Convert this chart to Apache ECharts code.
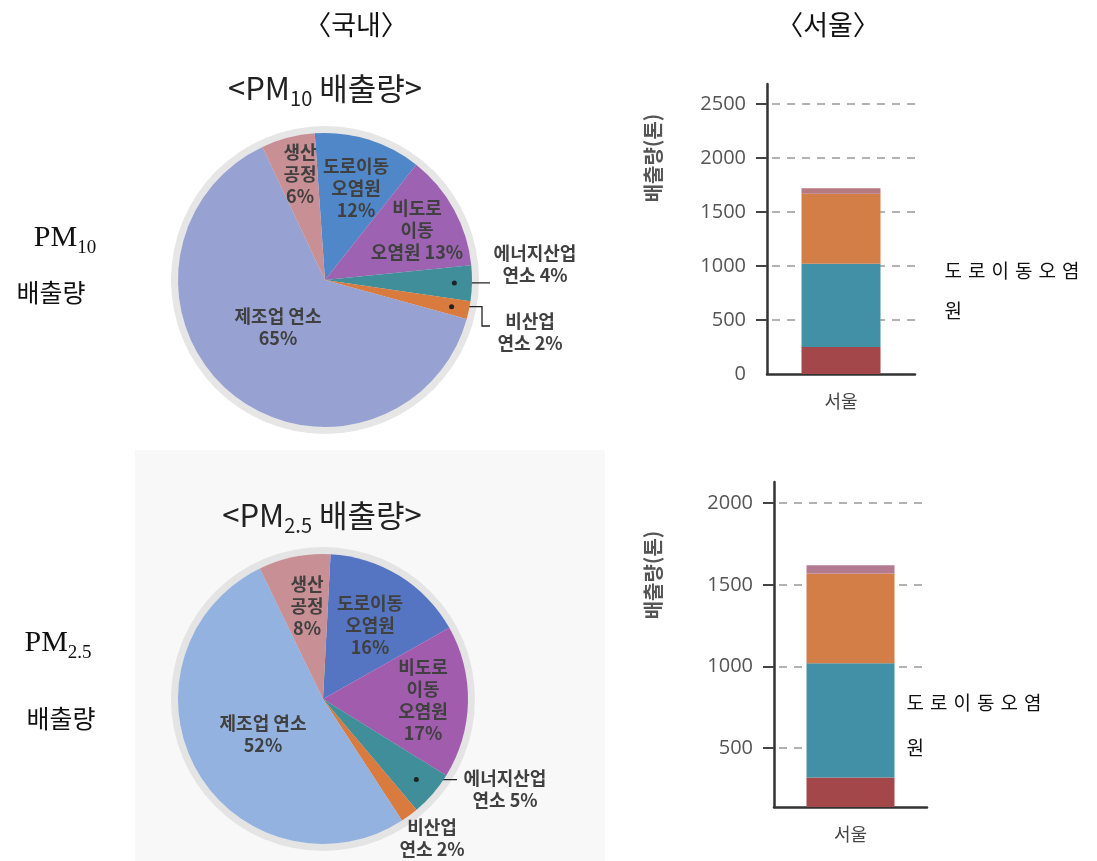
<!DOCTYPE html>
<html lang="ko">
<head>
<meta charset="UTF-8">
<title>PM 배출량 - 국내 / 서울</title>
<script src="https://cdn.jsdelivr.net/npm/echarts@6/dist/echarts.min.js"></script>
<style>
  html, body { margin: 0; padding: 0; background: #fff; }
  #main { width: 1097px; height: 861px; }
</style>
</head>
<body>
<div id="main"></div>
<script>
  // 국내 배출원별 비중 (%)
  var sources = ['도로이동 오염원', '비도로 이동 오염원', '에너지산업 연소', '비산업 연소', '제조업 연소', '생산 공정'];
  var pm10Share = [12, 13, 4, 2, 65, 6];
  var pm25Share = [16, 17, 5, 2, 52, 8];

  // 파이 라벨 줄바꿈 (뒤에 값% 가 붙음)
  var pm10LabelText = ['도로이동\n오염원\n', '비도로\n이동\n오염원 ', '에너지산업\n연소 ', '비산업\n연소 ', '제조업 연소\n', '생산\n공정\n'];
  var pm25LabelText = ['도로이동\n오염원\n', '비도로\n이동\n오염원\n', '에너지산업\n연소 ', '비산업\n연소 ', '제조업 연소\n', '생산\n공정\n'];

  // 서울 배출량 (톤), 아래부터 쌓음
  var seoulCategory = ['서울'];
  var segNames = ['구간1', '도로이동오염원', '구간3', '구간4'];
  var pm10Seoul = [250, 770, 650, 50];
  var pm25Seoul = [320, 700, 550, 50];
  var pm10Ticks = [0, 500, 1000, 1500, 2000, 2500];
  var pm25Ticks = [500, 1000, 1500, 2000];

  // ---- 스타일 / 배치 ----
  var pm10Colors = ['#4f87c8', '#9d63b2', '#3f8e99', '#d97a3f', '#97a2d2', '#c88f95'];
  var pm25Colors = ['#5575c2', '#a15cae', '#3f8e99', '#d97a3f', '#93b2e0', '#c88f95'];
  var segColors10 = ['#a4474a', '#4290a6', '#d27e46', '#b5797f'];
  var segColors25 = ['#a4474a', '#4290a6', '#d27e46', '#b27b92'];

  var pieTop = { cx: 325, cy: 280, r: 147, start: 94 };
  var pieBot = { cx: 323, cy: 699, r: 145, start: 87 };

  var pm10LabelPos = [[356, 188], [417, 230], [535, 264], [530, 332], [278, 327], [300, 174]];
  var pm25LabelPos = [[370, 625], [423, 700], [505, 789], [432, 838], [263, 734], [307, 606]];

  var korFont = '"Noto Sans CJK KR", "Noto Sans", sans-serif';

  // 조각 가운데 각도에 있는 점 (지시선 시작점)
  function slicePoint(pie, values, idx, k) {
    var total = values.reduce(function (a, b) { return a + b; }, 0);
    var before = 0;
    for (var i = 0; i < idx; i++) before += values[i];
    var deg = pie.start - (before + values[idx] / 2) / total * 360;
    var rad = deg * Math.PI / 180;
    return [pie.cx + pie.r * k * Math.cos(rad), pie.cy - pie.r * k * Math.sin(rad)];
  }

  var d10e = slicePoint(pieTop, pm10Share, 2, 0.88);
  var d10n = slicePoint(pieTop, pm10Share, 3, 0.88);
  var d25e = slicePoint(pieBot, pm25Share, 2, 0.85);

  var pm10Lines = {
    2: [d10e, [490, d10e[1]]],
    3: [d10n, [482, d10n[1]], [482, 326], [490, 326]]
  };
  var pm25Lines = {
    2: [d25e, [457, d25e[1]]],
    3: null
  };

  function pieSeries(pie, values, colors, labelText, labelPos, lines) {
    return {
      type: 'pie',
      center: [pie.cx, pie.cy],
      radius: pie.r,
      startAngle: pie.start,
      clockwise: true,
      avoidLabelOverlap: false,
      silent: true,
      label: {
        position: 'inside',
        color: '#404040',
        fontSize: 18,
        fontWeight: 'bold',
        lineHeight: 22,
        fontFamily: korFont,
        formatter: function (p) { return labelText[p.dataIndex] + p.value + '%'; }
      },
      labelLine: { show: false },
      labelLayout: function (p) {
        var pos = labelPos[p.dataIndex];
        var out = { x: pos[0], y: pos[1], align: 'center', verticalAlign: 'middle' };
        if (lines[p.dataIndex]) out.labelLinePoints = lines[p.dataIndex];
        return out;
      },
      data: sources.map(function (n, i) {
        var item = { name: n, value: values[i], itemStyle: { color: colors[i] } };
        if (i in lines) {
          item.label = { position: 'outside' };
          item.labelLine = { show: !!lines[i], length: 10, length2: 10, lineStyle: { color: '#222', width: 1.3 } };
        }
        return item;
      })
    };
  }

  function barSeries(values, colors, gi, stack, barW, noteLabel) {
    return values.map(function (v, i) {
      var s = {
        type: 'bar',
        name: segNames[i],
        xAxisIndex: gi,
        yAxisIndex: gi,
        stack: stack,
        barWidth: barW,
        silent: true,
        itemStyle: { color: colors[i] },
        data: [v]
      };
      if (i === 1) s.label = noteLabel;
      return s;
    });
  }

  // 자간을 띄운 주석 글자 (글자마다 rich 토큰)
  var noteText = '도로이동오염\n원';
  var noteRich = noteText.split('\n').map(function (line) {
    return line.split('').map(function (c) { return '{c|' + c + '}'; }).join('');
  }).join('\n');

  function yAxisCfg(gi, min, max, ticks) {
    return {
      type: 'value',
      gridIndex: gi,
      min: min,
      max: max,
      minInterval: 500,
      maxInterval: 500,
      axisLine: { show: true, lineStyle: { color: '#333', width: 2.5 } },
      axisTick: {
        show: true, length: 11,
        lineStyle: { color: '#444', width: 2 },
        customValues: ticks.filter(function (t) { return t > 0; })
      },
      axisLabel: {
        customValues: ticks,
        formatter: function (v) { return String(v); },
        margin: 21, fontSize: 20, color: '#555', fontFamily: '"Open Sans", sans-serif'
      },
      splitLine: {
        show: true,
        lineStyle: { type: [8, 7], dashOffset: 10, color: '#999', width: 1.5 }
      }
    };
  }

  function xAxisCfg(gi) {
    return {
      type: 'category',
      gridIndex: gi,
      data: seoulCategory,
      axisLine: { show: true, lineStyle: { color: '#333', width: 2.5 } },
      axisTick: { show: false },
      axisLabel: { margin: 18, fontSize: 18, color: '#444', fontFamily: korFont }
    };
  }

  function subTitle(x, y, main, sub, tail, size, subSize, family, color) {
    return {
      type: 'text', x: x, y: y, style: {
        text: '{a|' + main + '}{s|' + sub + '}' + (tail ? '{a|' + tail + '}' : ''),
        align: 'center', verticalAlign: 'middle',
        rich: {
          a: { fontSize: size, fontFamily: family, fill: color, lineHeight: size + 9 },
          s: { fontSize: subSize, fontFamily: family, fill: color, lineHeight: size + 9, verticalAlign: 'bottom' }
        }
      }
    };
  }

  var myChart = echarts.init(document.getElementById('main'), null, { renderer: 'canvas' });

  var option = {
    backgroundColor: '#fff',
    animation: false,
    grid: [
      { left: 767, top: 84, width: 148, height: 290 },
      { left: 774, top: 482, width: 153, height: 325 }
    ],
    xAxis: [xAxisCfg(0), xAxisCfg(1)],
    yAxis: [yAxisCfg(0, 0, 2685, pm10Ticks), yAxisCfg(1, 140, 2130, pm25Ticks)],
    graphic: [
      // 아래쪽 파이 영역 배경
      { type: 'rect', shape: { x: 135, y: 450, width: 470, height: 411 }, style: { fill: '#f8f8f8' }, silent: true },
      // 파이 바깥 테두리
      { type: 'circle', shape: { cx: pieTop.cx, cy: pieTop.cy, r: pieTop.r + 7 }, style: { fill: '#e6e6e6' }, silent: true },
      { type: 'circle', shape: { cx: pieBot.cx, cy: pieBot.cy, r: pieBot.r + 7 }, style: { fill: '#e4e4e4' }, silent: true },
      // 지시선 점
      { type: 'circle', z: 100, shape: { cx: d10e[0], cy: d10e[1], r: 2.5 }, style: { fill: '#222' }, silent: true },
      { type: 'circle', z: 100, shape: { cx: d10n[0], cy: d10n[1], r: 2.5 }, style: { fill: '#222' }, silent: true },
      { type: 'circle', z: 100, shape: { cx: d25e[0], cy: d25e[1], r: 2.5 }, style: { fill: '#222' }, silent: true },
      // 상단 제목
      { type: 'text', x: 356, y: 25, style: { text: '〈국내〉', font: '27px ' + korFont, fill: '#111', align: 'center', verticalAlign: 'middle' } },
      { type: 'text', x: 828, y: 25, style: { text: '〈서울〉', font: '27px ' + korFont, fill: '#111', align: 'center', verticalAlign: 'middle' } },
      // 왼쪽 행 제목
      subTitle(65, 238, 'PM', '10', '', 30, 19, '"Liberation Serif", serif', '#111'),
      { type: 'text', x: 51, y: 292, style: { text: '배출량', font: '25px ' + korFont, fill: '#111', align: 'center', verticalAlign: 'middle' } },
      subTitle(58, 643, 'PM', '2.5', '', 30, 19, '"Liberation Serif", serif', '#111'),
      { type: 'text', x: 61, y: 718, style: { text: '배출량', font: '25px ' + korFont, fill: '#111', align: 'center', verticalAlign: 'middle' } },
      // 파이 제목
      subTitle(325, 88, '<PM', '10', ' 배출량>', 31, 20, korFont, '#222'),
      subTitle(322, 515, '<PM', '2.5', ' 배출량>', 31, 20, korFont, '#222'),
      // 막대 y축 이름
      { type: 'text', x: 653, y: 158, rotation: Math.PI / 2, style: { text: '배출량(톤)', font: 'bold 20px ' + korFont, fill: '#555', align: 'center', verticalAlign: 'middle' } },
      { type: 'text', x: 653, y: 575, rotation: Math.PI / 2, style: { text: '배출량(톤)', font: 'bold 20px ' + korFont, fill: '#555', align: 'center', verticalAlign: 'middle' } }
    ],
    series: [
      pieSeries(pieTop, pm10Share, pm10Colors, pm10LabelText, pm10LabelPos, pm10Lines),
      pieSeries(pieBot, pm25Share, pm25Colors, pm25LabelText, pm25LabelPos, pm25Lines)
    ]
      .concat(barSeries(pm10Seoul, segColors10, 0, 'pm10', 79, {
        show: true, position: 'right', distance: 64, offset: [0, -15],
        formatter: noteRich, align: 'left',
        rich: { c: { color: '#111', fontSize: 19, lineHeight: 40, fontFamily: korFont, padding: [0, 6, 0, 0] } }
      }))
      .concat(barSeries(pm25Seoul, segColors25, 1, 'pm25', 88, {
        show: true, position: 'right', distance: 1, offset: [0, 16],
        formatter: noteRich, align: 'left',
        rich: { c: { color: '#111', fontSize: 19, lineHeight: 45, fontFamily: korFont, padding: [0, 6, 0, 0] } },
        backgroundColor: '#fff', padding: [7, 30, 30, 11]
      }))
  };

  myChart.setOption(option);
</script>
</body>
</html>
